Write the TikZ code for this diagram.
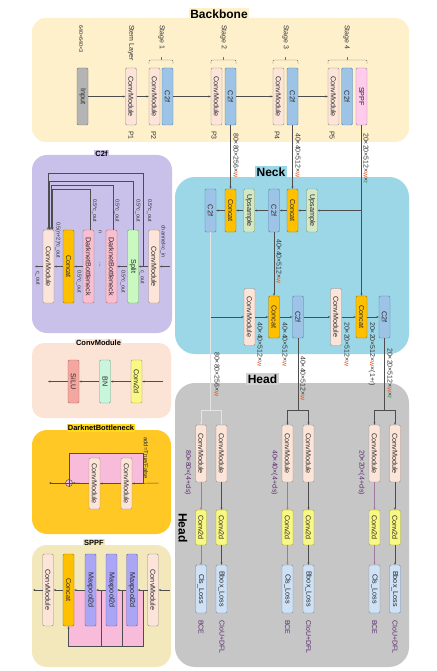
\documentclass[tikz,border=0pt]{standalone}
\usepackage{fontspec}
\setmainfont{Liberation Sans}
\usetikzlibrary{arrows.meta,calc}
\definecolor{bbbg}{HTML}{FDF0CB}
\definecolor{neckbg}{HTML}{9CD7E8}
\definecolor{headbg}{HTML}{C6C6C6}
\definecolor{cfbg}{HTML}{C9C1E9}
\definecolor{cmpbg}{HTML}{FBE3D6}
\definecolor{dbbg}{HTML}{FFC825}
\definecolor{sppfbg}{HTML}{F2E8BC}
\definecolor{cmF}{HTML}{FCE5D8}\definecolor{cmD}{HTML}{9A8A80}
\definecolor{cfF}{HTML}{9DC3E6}\definecolor{cfD}{HTML}{5A7FA8}
\definecolor{catF}{HTML}{FFC000}\definecolor{catD}{HTML}{9E7700}
\definecolor{upF}{HTML}{D5E8C3}\definecolor{upD}{HTML}{7E9B6E}
\definecolor{inF}{HTML}{B4B4B4}\definecolor{inD}{HTML}{777777}
\definecolor{spF}{HTML}{FFCCEB}\definecolor{spD}{HTML}{A07F95}
\definecolor{slF}{HTML}{C9F8C0}\definecolor{slD}{HTML}{6FA86A}
\definecolor{dbF}{HTML}{F9BFD0}\definecolor{dbD}{HTML}{A0707F}
\definecolor{siF}{HTML}{F4A7A0}\definecolor{siD}{HTML}{A06860}
\definecolor{bnF}{HTML}{C8F5DB}\definecolor{bnD}{HTML}{70A088}
\definecolor{cvF}{HTML}{F8F882}\definecolor{cvD}{HTML}{A0A050}
\definecolor{lsF}{HTML}{CFE2F5}\definecolor{lsD}{HTML}{7088A8}
\definecolor{mpF}{HTML}{AAA6F5}\definecolor{mpD}{HTML}{6A66B0}
\definecolor{pinkr}{HTML}{F8BBD9}
\definecolor{lc}{HTML}{4D4D4D}
\definecolor{lcL}{HTML}{E4E4E4}
\definecolor{lcM}{HTML}{A07AA0}
\definecolor{txt}{HTML}{333333}
\definecolor{wcol}{HTML}{E8541C}
\definecolor{rcol}{HTML}{2EA043}
\definecolor{hcol}{HTML}{5B2C6F}
\newcommand\VB[7]{\node[#2,minimum width=#5,minimum height=#6] (#1) at (#3,#4) {\rotatebox{-90}{#7}};}
\newcommand\VL[5][]{\node[lbl,#1] (#2) at (#3,#4) {#5};}
\newcommand\Wc{\textcolor{wcol}{w}}
\newcommand\Rc{\textcolor{rcol}{r}}
\begin{document}
\begin{tikzpicture}[x=1pt,y=-1pt,
 vb/.style={draw, rounded corners=1.2pt, line width=0.45pt, inner sep=0pt, font=\fontsize{7.2}{7.5}\selectfont, text=black!85},
 cmS/.style={vb, fill=cmF, draw=cmD},
 cfS/.style={vb, fill=cfF, draw=cfD},
 catS/.style={vb, fill=catF, draw=catD},
 upS/.style={vb, fill=upF, draw=upD},
 inS/.style={vb, fill=inF, draw=inD},
 spS/.style={vb, fill=spF, draw=spD},
 slS/.style={vb, fill=slF, draw=slD},
 dbS/.style={vb, fill=dbF, draw=dbD},
 siS/.style={vb, fill=siF, draw=siD},
 bnS/.style={vb, fill=bnF, draw=bnD},
 cvS/.style={vb, fill=cvF, draw=cvD},
 lsS/.style={vb, fill=lsF, draw=lsD},
 mpS/.style={vb, fill=mpF, draw=mpD},
 lbl/.style={rotate=-90, anchor=west, inner sep=0pt, font=\fontsize{7}{7.5}\selectfont, text=txt},
 slbl/.style={font=\fontsize{5.5}{6}\selectfont},
 hlbl/.style={text=hcol},
 ttl/.style={font=\bfseries\fontsize{12}{13}\selectfont, inner sep=1.5pt},
 sttl/.style={font=\bfseries\fontsize{7.5}{8}\selectfont, inner sep=1pt},
 ar/.style={draw=lc, line width=0.45pt, -{Stealth[length=2.4pt,width=2pt]}},
 ln/.style={draw=lc, line width=0.45pt},
 brc/.style={draw=lc!80, line width=0.45pt, rounded corners=1pt},
]
\useasboundingbox (0,0) rectangle (436,671);
\fill[white] (0,0) rectangle (436,671);
% ---------- panels
\fill[bbbg, rounded corners=14] (32,18) rectangle (409,142);
\fill[neckbg, rounded corners=20] (175,177) rectangle (409,354);
\fill[headbg, rounded corners=20] (175,383) rectangle (409,667);
\fill[cfbg, rounded corners=15] (32,155) rectangle (172,333);
\fill[cmpbg, rounded corners=12] (32,343) rectangle (171,418);
\fill[dbbg, rounded corners=15] (32,430) rectangle (171,534);
\fill[sppfbg, rounded corners=15] (32,545) rectangle (171,667);
% titles
\node[ttl, fill=bbbg] (tBB) at (219,14) {Backbone};
\node[ttl, fill=neckbg] (tNK) at (271,172) {Neck};
\node[ttl, fill=headbg!80!white] (tHD) at (262.5,379) {Head};
\node[font=\bfseries\fontsize{12}{13}\selectfont, rotate=-90, inner sep=0] (tHD2) at (183,528) {Head};
\node[sttl, fill=cfbg] (tCF) at (101.5,154) {C2f};
\node[sttl, fill=cmpbg] (tCM) at (98.5,343) {ConvModule};
\node[sttl, fill=dbbg!70!yellow] (tDB) at (101,428) {DarknetBottleneck};
\node[sttl, fill=sppfbg] (tSP) at (94,543) {SPPF};
% ---------- backbone
\VB{inp}{inS}{82.5}{96.5}{11}{57}{Input}
\VB{stem}{cmS}{131}{96.5}{11}{57}{ConvModule}
\VB{s1cm}{cmS}{154.5}{96.5}{11}{57}{ConvModule}
\VB{s1cf}{cfS}{167.5}{96.5}{11}{57}{C2f}
\VB{s2cm}{cmS}{216.5}{96.5}{11}{57}{ConvModule}
\VB{s2cf}{cfS}{230.5}{96.5}{11}{57}{C2f}
\VB{s3cm}{cmS}{278.5}{96.5}{11}{57}{ConvModule}
\VB{s3cf}{cfS}{292.5}{96.5}{11}{57}{C2f}
\VB{s4cm}{cmS}{333.5}{96.5}{11}{57}{ConvModule}
\VB{s4cf}{cfS}{347}{96.5}{11}{57}{C2f}
\VB{sppf}{spS}{361.5}{96.5}{11}{57}{SPPF}
\draw[ar] (inp.east) -- (stem.west);
\draw[ar] (stem.east) -- (s1cm.west);
\draw[ar] (s1cf.east) -- (s2cm.west);
\draw[ar] (s2cf.east) -- (s3cm.west);
\draw[ar] (s3cf.east) -- (s4cm.west);
\VL[font=\fontsize{5.5}{6}\selectfont]{l640}{81}{25}{640×640×3}
\VL{lstem}{131}{25}{Stem Layer}
\VL{lst1}{161.5}{25}{Stage 1}
\VL{lst2}{223.5}{25}{Stage 2}
\VL{lst3}{285.5}{25}{Stage 3}
\VL{lst4}{346.5}{25}{Stage 4}
\draw[brc] (149,64) -- (149,60) -- (173,60) -- (173,64); \draw[brc] (161,60) -- (161,57);
\draw[brc] (211,64) -- (211,60) -- (236,60) -- (236,64); \draw[brc] (223.5,60) -- (223.5,57);
\draw[brc] (273,64) -- (273,60) -- (298,60) -- (298,64); \draw[brc] (285.5,60) -- (285.5,57);
\draw[brc] (328,64) -- (328,60) -- (367,60) -- (367,64); \draw[brc] (347.5,60) -- (347.5,57);
\VL{lp1}{131}{131}{P1}
\VL{lp2}{153.5}{131}{P2}
\VL{lp3}{214}{131}{P3}
\VL{lp4}{277}{131}{P4}
\VL{lp5}{332}{131}{P5}
% ---------- neck
\VB{nt1}{cfS}{210.5}{210.5}{11}{43}{C2f}
\VB{nt2}{catS}{230.5}{210.5}{11}{43}{Concat}
\VB{nt3}{upS}{249}{210.5}{11}{43}{Upsample}
\VB{nt4}{cfS}{274}{210.5}{11}{43}{C2f}
\VB{nt5}{catS}{292.5}{210.5}{11}{43}{Concat}
\VB{nt6}{upS}{312}{210.5}{11}{43}{Upsample}
\VB{nb1}{cmS}{249.5}{317}{11}{57}{ConvModule}
\VB{nb2}{catS}{274}{317}{11}{42}{Concat}
\VB{nb3}{cfS}{298}{317}{11}{42}{C2f}
\VB{nb4}{cmS}{336}{317}{11}{57}{ConvModule}
\VB{nb5}{catS}{361.5}{317}{11}{42}{Concat}
\VB{nb6}{cfS}{384.5}{317}{11}{42}{C2f}
\coordinate (j1) at (361.5,210.5);
\coordinate (j2) at (210.5,317);
\coordinate (hj1) at (210.5,410);
\coordinate (hj2) at (298,410);
\coordinate (hj3) at (384.5,410);
\draw[ar] (s2cf.south) -- (nt2.north);
\draw[ar] (s3cf.south) -- (nt5.north);
\draw[ar] (sppf.south) -- (nb5.north);
\draw[ar] (j1) -- (nt6.east);
\draw[ar] (nt6.west) -- (nt5.east);
\draw[ar] (nt5.west) -- (nt4.east);
\draw[ar] (nt4.west) -- (nt3.east);
\draw[ar] (nt3.west) -- (nt2.east);
\draw[ar] (nt2.west) -- (nt1.east);
\draw[ar] (nt4.south) -- (nb2.north);
\draw[ln, draw=lcL] (nt1.south) -- (hj1);
\draw[ar] (j2) -- (nb1.west);
\draw[ar] (nb1.east) -- (nb2.west);
\draw[ar] (nb2.east) -- (nb3.west);
\draw[ar] (nb3.east) -- (nb4.west);
\draw[ar] (nb4.east) -- (nb5.west);
\draw[ar] (nb5.east) -- (nb6.west);
\draw[ln] (nb3.south) -- (hj2);
\draw[ln] (nb6.south) -- (hj3);
\VL{d1}{236}{133}{80×80×256×\Wc}
\VL{d2}{298}{133}{40×40×512×\Wc}
\VL{d3}{366}{133}{20×20×512×\Wc×\Rc}
\VL{d4}{279}{239}{40×40×512×\Wc}
\VL{d5}{260}{322}{40×40×512×\Wc}
\VL{d6}{285}{322}{40×40×512×\Wc}
\VL{d7}{347}{322}{20×20×512×\Wc}
\VL{d8}{372}{322}{20×20×512×\Wc×(1+\Rc)}
\VL{d9}{390}{348}{20×20×512×\Wc×\Rc}
\VL{d10}{217}{352}{80×80×256×\Wc}
\VL{d11}{303}{356}{40×40×512×\Wc}
% ---------- head
\VB{h1a}{cmS}{201}{453.5}{11}{57}{ConvModule}
\VB{h1b}{cmS}{221.5}{453.5}{11}{57}{ConvModule}
\VB{h1c}{cvS}{201}{527.5}{11}{35}{Conv2d}
\VB{h1d}{cvS}{221.5}{527.5}{11}{35}{Conv2d}
\VB{h1e}{lsS}{201}{589}{11}{48}{Cls\_Loss}
\VB{h1f}{lsS}{221.5}{589}{11}{48}{Bbox\_Loss}
\VB{h2a}{cmS}{287.5}{453.5}{11}{57}{ConvModule}
\VB{h2b}{cmS}{308.5}{453.5}{11}{57}{ConvModule}
\VB{h2c}{cvS}{287.5}{527.5}{11}{35}{Conv2d}
\VB{h2d}{cvS}{308.5}{527.5}{11}{35}{Conv2d}
\VB{h2e}{lsS}{287.5}{589}{11}{48}{Cls\_Loss}
\VB{h2f}{lsS}{308.5}{589}{11}{48}{Bbox\_Loss}
\VB{h3a}{cmS}{374.5}{453.5}{11}{57}{ConvModule}
\VB{h3b}{cmS}{395}{453.5}{11}{57}{ConvModule}
\VB{h3c}{cvS}{374.5}{527.5}{11}{35}{Conv2d}
\VB{h3d}{cvS}{395}{527.5}{11}{35}{Conv2d}
\VB{h3e}{lsS}{374.5}{589}{11}{48}{Cls\_Loss}
\VB{h3f}{lsS}{395}{589}{11}{48}{Bbox\_Loss}
\draw[ar, draw=lcL] (hj1) -| (h1a.north);
\draw[ar, draw=lcL] (hj1) -| (h1b.north);
\draw[ar] (hj2) -| (h2a.north);
\draw[ar] (hj2) -| (h2b.north);
\draw[ar] (hj3) -| (h3a.north);
\draw[ar] (hj3) -| (h3b.north);
\foreach \g in {1,2,3}{
 \draw[ar, draw=lcM] (h\g a.south) -- (h\g c.north);
 \draw[ar, draw=lcM] (h\g c.south) -- (h\g e.north);
 \draw[ar] (h\g b.south) -- (h\g d.north);
 \draw[ar] (h\g d.south) -- (h\g f.north);
}
\VL[hlbl]{e1}{188}{450}{80×80×(4+cls)}
\VL[hlbl]{e2}{274.5}{450}{40×40×(4+cls)}
\VL[hlbl]{e3}{361.5}{450}{20×20×(4+cls)}
\VL[hlbl]{b1}{201}{620}{BCE}
\VL[hlbl]{c1}{222}{620}{CIoU+DFL}
\VL[hlbl]{b2}{287.5}{620}{BCE}
\VL[hlbl]{c2}{308.5}{620}{CIoU+DFL}
\VL[hlbl]{b3}{374.5}{620}{BCE}
\VL[hlbl]{c3}{395}{620}{CIoU+DFL}
% ---------- C2f panel
\VB{ccm1}{cmS}{48.5}{266.5}{11}{73}{ConvModule}
\VB{ccat}{catS}{68.5}{266.5}{11}{73}{Concat}
\VB{cdb1}{dbS}{88.5}{266.5}{11}{73}{DarknetBottleneck}
\VB{cdb2}{dbS}{111.5}{266.5}{11}{73}{DarknetBottleneck}
\VB{csp}{slS}{133}{266.5}{11}{73}{Split}
\VB{ccm2}{cmS}{154}{266.5}{11}{73}{ConvModule}
\coordinate (cin) at (170,266.5);
\coordinate (cout) at (35,266.5);
\coordinate (cj) at (143.5,266.5);
\draw[ar] (cin) -- (ccm2.east);
\draw[ar] (ccm2.west) -- (csp.east);
\draw[ar] (csp.west) -- (cdb2.east);
\draw[ar] (cdb1.west) -- (ccat.east);
\draw[ar] (ccat.west) -- (ccm1.east);
\draw[ar] (ccm1.west) -- (cout);
\draw[ar] (cj) -- ++(0,-93.5) -| ([xshift=-0.5pt]ccm1.north);
\draw[ar] (csp.north) -- ++(0,-49) -| ([xshift=1pt]ccm1.north);
\draw[ar] ([xshift=1.5pt]cdb2.north) -- ++(0,-45) -| ([xshift=2.5pt]ccm1.north);
\draw[ar] ([xshift=2pt]cdb1.north) -- ++(0,-41) -| ([xshift=4pt]ccm1.north);
\VL[slbl]{c05a}{94.5}{199}{0.5*c\_out}
\VL[slbl]{c05b}{117}{199}{0.5*c\_out}
\VL[slbl]{c05c}{138}{199}{0.5*c\_out}
\VL[slbl]{c05d}{149.5}{199}{0.5*c\_out}
\VL[slbl]{cn}{100}{230}{n}
\node[lbl, anchor=center, font=\fontsize{6}{6}\selectfont] (cdots) at (100,265) {...};
\VL[slbl]{cch}{163}{225}{channel=c\_in}
\VL[slbl]{cn2}{58}{222}{0.5(n+2)*c\_out}
\VL[slbl]{c05e}{79}{270}{0.5*c\_out}
\VL[slbl]{c05f}{123}{270}{0.5*c\_out}
\VL[slbl]{ccoa}{142}{270}{c\_out}
\VL[slbl]{ccob}{37.5}{271}{c\_out}
% ---------- ConvModule panel
\VB{msi}{siS}{73.5}{381.5}{11}{43}{SiLU}
\VB{mbn}{bnS}{105}{381.5}{11}{43}{BN}
\VB{mcv}{cvS}{136.5}{381.5}{11}{43}{Conv2d}
\coordinate (min) at (163,381.5);
\coordinate (mout) at (48,381.5);
\draw[ar] (min) -- (mcv.east);
\draw[ar] (mcv.west) -- (mbn.east);
\draw[ar] (mbn.west) -- (msi.east);
\draw[ar] (msi.west) -- (mout);
% ---------- Darknet panel
\node[draw=lc, fill=pinkr, line width=0.45pt, minimum width=74, minimum height=30, inner sep=0] (dsk) at (106,468) {};
\VB{dcm1}{cmS}{94.5}{483.5}{11}{51}{ConvModule}
\VB{dcm2}{cmS}{126.5}{483.5}{11}{51}{ConvModule}
\node[circle, draw=lc, fill=pinkr, line width=0.45pt, minimum size=7, inner sep=0] (dadd) at (69,483) {};
\draw[ln] (dadd.north) -- (dadd.south);
\draw[ln] (dadd.west) -- (dadd.east);
\coordinate (din) at (159,483);
\coordinate (dout) at (49,483);
\draw[ar] (din) -- (dcm2.east);
\draw[ar] (dcm2.west) -- (dcm1.east);
\draw[ar] (dcm1.west) -- (dadd.east);
\draw[ar] (dadd.west) -- (dout);
\VL[font=\fontsize{6}{6.5}\selectfont]{dlab}{146}{437}{add=True/False}
% ---------- SPPF panel
\fill[pinkr] (69,590) rectangle (143,646);
\VB{scm1}{cmS}{48}{590}{10.5}{72}{ConvModule}
\VB{scat}{catS}{68.5}{590}{11}{72}{Concat}
\VB{smp1}{mpS}{90.5}{590}{11}{72}{Maxpool2d}
\VB{smp2}{mpS}{111.5}{590}{11}{72}{Maxpool2d}
\VB{smp3}{mpS}{132}{590}{11}{72}{Maxpool2d}
\VB{scm2}{cmS}{153}{590}{10.5}{72}{ConvModule}
\coordinate (sin) at (170,590);
\coordinate (sout) at (33,590);
\coordinate (sj1) at (143,590);
\coordinate (sj2) at (122.5,590);
\coordinate (sj3) at (101,590);
\draw[ar] (sin) -- (scm2.east);
\draw[ar] (scm2.west) -- (smp3.east);
\draw[ar] (smp3.west) -- (smp2.east);
\draw[ar] (smp2.west) -- (smp1.east);
\draw[ar] (smp1.west) -- (scat.east);
\draw[ar] (scat.west) -- (scm1.east);
\draw[ar] (scm1.west) -- (sout);
\draw[ln] (sj1) -- ++(0,56) -| ($(scat.south)+(0,20)$);
\draw[ar] ($(scat.south)+(0,20)$) -- (scat.south);
\draw[ln] (sj2) -- ++(0,56);
\draw[ln] (sj3) -- ++(0,56);
\end{tikzpicture}
\end{document}
